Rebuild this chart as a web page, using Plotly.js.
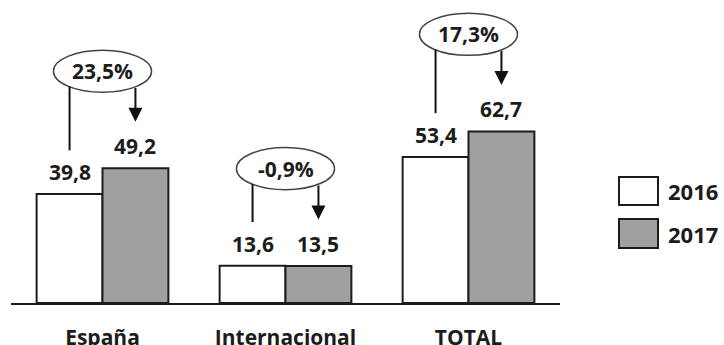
<!DOCTYPE html>
<html>
<head>
<meta charset="utf-8">
<script src="https://cdn.plot.ly/plotly-3.0.1.min.js"></script>
<style>html,body{margin:0;padding:0;background:#fff;}</style>
</head>
<body>
<div id="chart" style="width:724px;height:345px;"></div>
<script>
var categories = ['España', 'Internacional', 'TOTAL'];
var values2016 = [39.8, 13.6, 53.4];
var values2017 = [49.2, 13.5, 62.7];
var changeLabels = ['23,5%', '-0,9%', '17,3%'];
var seriesNames = ['2016', '2017'];

var FONT = 'Open Sans, Liberation Sans, sans-serif';
var TXT = '#1c1c1c';
var GRAY = '#a0a0a0';
var fmt = function (v) { return v.toFixed(1).replace('.', ','); };

var traces = [
  {type: 'bar', name: seriesNames[0], x: categories, y: values2016,
   marker: {color: '#ffffff', line: {color: TXT, width: 2}}, hoverinfo: 'skip'},
  {type: 'bar', name: seriesNames[1], x: categories, y: values2017,
   marker: {color: GRAY, line: {color: TXT, width: 2}}, hoverinfo: 'skip'}
];

var OFF = 0.18;   // half of bar slot in category units
var shapes = [];
var annotations = [];

categories.forEach(function (c, i) {
  var a = values2016[i], b = values2017[i];
  var top = Math.max(a, b);
  var cy = top + 35.5;
  // value labels
  annotations.push({x: i - OFF, y: a, xref: 'x', yref: 'y', text: fmt(a), showarrow: false,
    yanchor: 'bottom', yshift: 6, font: {family: FONT, size: 21, weight: 700, color: TXT}});
  annotations.push({x: i + OFF, y: b, xref: 'x', yref: 'y', text: fmt(b), showarrow: false,
    yanchor: 'bottom', yshift: 6, font: {family: FONT, size: 21, weight: 700, color: TXT}});
  // ellipse
  shapes.push({type: 'circle', xref: 'x', yref: 'y', x0: i - 0.268, x1: i + 0.268,
    y0: cy - 7.7, y1: cy + 7.7, line: {color: '#444', width: 1.5}, fillcolor: '#fff', layer: 'above'});
  annotations.push({x: i, y: cy, xref: 'x', yref: 'y', text: changeLabels[i], showarrow: false,
    font: {family: FONT, size: 21, weight: 700, color: TXT}});
  // left connector line
  shapes.push({type: 'line', xref: 'x', yref: 'y', x0: i - OFF, x1: i - OFF,
    y0: cy - 5.6, y1: a + 16, line: {color: '#111', width: 2}});
  // right arrow
  annotations.push({x: i + OFF, y: b + 17, xref: 'x', yref: 'y', axref: 'x', ayref: 'y',
    ax: i + OFF, ay: cy - 5.6, text: '', showarrow: true, arrowhead: 2, arrowsize: 1.4,
    arrowwidth: 2, arrowcolor: '#111', standoff: 0});
});

// custom legend
var L = 11, W = 549, T = 2, H = 301;
var px = function (x) { return (x - L) / W; };
var py = function (y) { return (T + H - y) / H; };
var legendRows = [[177, 205], [219, 248]];
var legendFills = ['#ffffff', GRAY];
legendRows.forEach(function (r, k) {
  shapes.push({type: 'rect', xref: 'paper', yref: 'paper', x0: px(619), x1: px(658),
    y0: py(r[1]), y1: py(r[0]), fillcolor: legendFills[k], line: {color: TXT, width: 2}});
  annotations.push({xref: 'paper', yref: 'paper', x: px(666), y: py((r[0] + r[1]) / 2),
    xanchor: 'left', yanchor: 'middle', text: seriesNames[k], showarrow: false,
    font: {family: FONT, size: 22, weight: 700, color: TXT}});
});

var layout = {
  width: 724, height: 345,
  margin: {l: 11, r: 164, t: 2, b: 42},
  paper_bgcolor: '#fff', plot_bgcolor: '#fff',
  barmode: 'group', bargap: 0.28, bargroupgap: 0,
  showlegend: false,
  xaxis: {type: 'category', range: [-0.5, 2.5], showline: true, linecolor: TXT, linewidth: 2,
    ticks: '', showgrid: false, zeroline: false, ticklabelstandoff: 15,
    tickfont: {family: FONT, size: 21, weight: 700, color: TXT}},
  yaxis: {range: [0, 110], visible: false, showgrid: false, zeroline: false},
  shapes: shapes,
  annotations: annotations
};

Plotly.newPlot('chart', traces, layout, {displayModeBar: false, staticPlot: true});
</script>
</body>
</html>
